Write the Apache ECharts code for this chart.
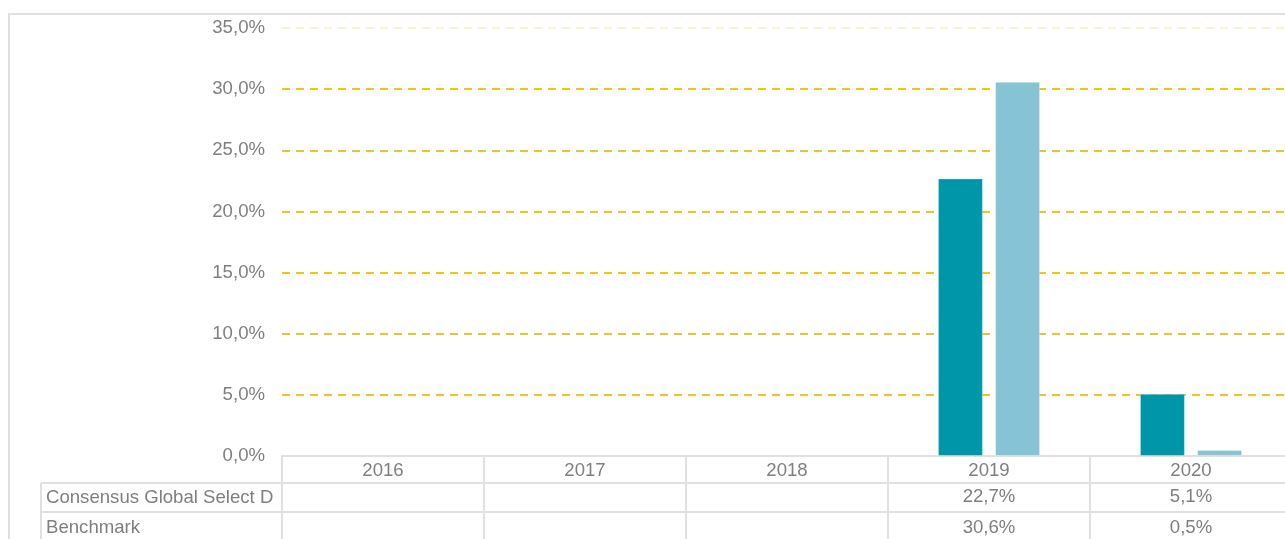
<!DOCTYPE html>
<html>
<head>
<meta charset="utf-8">
<script src="https://cdn.jsdelivr.net/npm/echarts@6/dist/echarts.min.js"></script>
<style>
  html, body { margin: 0; padding: 0; background: #fff; }
  #chart { width: 1285px; height: 539px; }
</style>
</head>
<body>
<div id="chart"></div>
<script>
// categories and series values (in %)
var years = ["2016", "2017", "2018", "2019", "2020"];
var fundName = "Consensus Global Select D";
var benchName = "Benchmark";
var fundValues = [null, null, null, 22.7, 5.1];
var benchValues = [null, null, null, 30.6, 0.5];

var textColor = "#7f7f7f";
var lineColor = "#e0e0e0";
var fontFamily = "'Liberation Sans', Arial, sans-serif";
var fontSize = 18.6;

// grid layout
var gridLeft = 282, gridTop = 28, gridBottom = 83;
var row1 = 456, row2 = 483, row3 = 512;

function pct(v) {
  if (v === null || v === undefined) return "";
  return v.toFixed(1).replace(".", ",") + "%";
}

function tableAxis(values, offset, tickLen, labelMargin) {
  return {
    type: "category",
    data: years,
    gridIndex: 0,
    position: "bottom",
    offset: offset,
    axisLine: { show: true, lineStyle: { color: lineColor, width: 2 } },
    axisTick: { show: true, length: tickLen, lineStyle: { color: lineColor, width: 2 } },
    axisLabel: {
      color: textColor, fontSize: fontSize, fontFamily: fontFamily,
      margin: labelMargin, verticalAlign: "middle",
      formatter: function (v, i) { return values ? pct(values[i]) : v; }
    },
    splitLine: { show: false }
  };
}

var chart = echarts.init(document.getElementById("chart"));
chart.setOption({
  animation: false,
  backgroundColor: "#fff",
  grid: {
    left: gridLeft, top: gridTop, right: -7, bottom: gridBottom,
    containLabel: false, outerBoundsMode: "none"
  },
  xAxis: [
    tableAxis(null, 0, row2 - row1, 14.5),
    tableAxis(fundValues, row2 - row1, row3 - row2, 14),
    tableAxis(benchValues, row3 - row1, 30, 16)
  ],
  yAxis: {
    type: "value",
    min: 0, max: 35, interval: 5,
    axisLine: { show: false },
    axisTick: { show: false },
    axisLabel: {
      color: textColor, fontSize: fontSize, fontFamily: fontFamily, margin: 17,
      formatter: function (v) { return pct(v); }
    },
    splitLine: {
      show: true,
      lineStyle: {
        color: ["#f0c51e", "#f0c51e", "#f0c51e", "#f0c51e", "#f0c51e", "#f0c51e", "#f0c51e", "rgba(240,197,30,0.22)"],
        width: 2,
        type: [8, 6]
      }
    }
  },
  series: [
    {
      name: fundName, type: "bar", data: fundValues,
      barWidth: 45, barGap: "27%",
      itemStyle: { color: "#0096aa", borderColor: "rgba(255,255,255,0.35)", borderWidth: 1 }
    },
    {
      name: benchName, type: "bar", data: benchValues,
      barWidth: 45,
      itemStyle: { color: "#86c3d4", borderColor: "rgba(255,255,255,0.35)", borderWidth: 1 }
    }
  ],
  graphic: [
    { type: "rect", shape: { x: 9, y: 14, width: 1400, height: 700 },
      style: { fill: "none", stroke: lineColor, lineWidth: 2 }, silent: true },
    { type: "line", shape: { x1: 41, y1: row2, x2: gridLeft, y2: row2 },
      style: { stroke: lineColor, lineWidth: 2 } },
    { type: "line", shape: { x1: 41, y1: row3, x2: gridLeft, y2: row3 },
      style: { stroke: lineColor, lineWidth: 2 } },
    { type: "line", shape: { x1: 41, y1: row2, x2: 41, y2: 600 },
      style: { stroke: lineColor, lineWidth: 2 } },
    { type: "text", x: 46, y: (row2 + row3) / 2 + 0.5,
      style: { text: fundName, fill: textColor, fontSize: fontSize, fontFamily: fontFamily, verticalAlign: "middle" } },
    { type: "text", x: 46, y: row3 + 16,
      style: { text: benchName, fill: textColor, fontSize: fontSize, fontFamily: fontFamily, verticalAlign: "middle" } }
  ]
});
</script>
</body>
</html>
